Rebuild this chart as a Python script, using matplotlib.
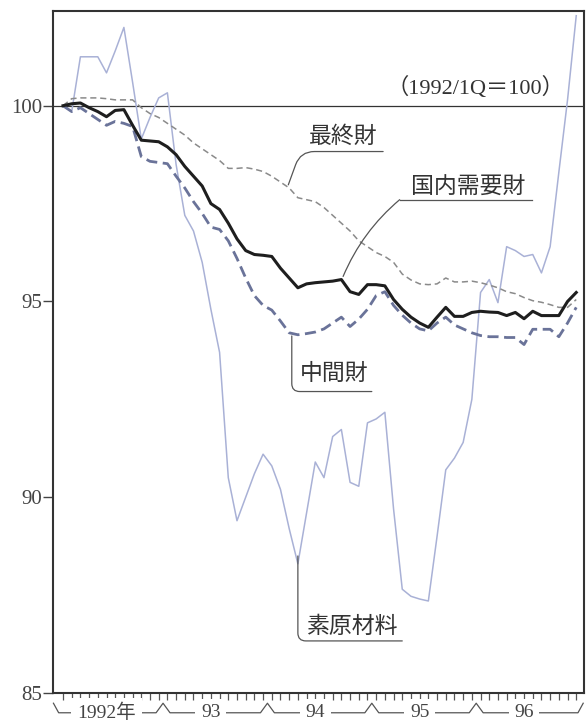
import matplotlib
matplotlib.use('Agg')
import matplotlib.pyplot as plt
import matplotlib.transforms as mtransforms

# monthly index, 1992/1 .. 1996/12 (1992/1Q = 100)
months = list(range(60))

final_goods = [100.0, 100.18, 100.2, 100.2, 100.2, 100.18, 100.15, 100.15, 100.15, 99.95,
               99.8, 99.7, 99.55, 99.4, 99.25, 99.05, 98.9, 98.75, 98.6, 98.4,
               98.4, 98.42, 98.38, 98.32, 98.2, 98.05, 97.9, 97.65, 97.6, 97.55,
               97.4, 97.2, 97.0, 96.8, 96.55, 96.4, 96.25, 96.15, 96.0, 95.7,
               95.55, 95.45, 95.43, 95.45, 95.6, 95.5, 95.5, 95.52, 95.48, 95.42,
               95.35, 95.25, 95.2, 95.1, 95.02, 94.98, 94.92, 94.85, 94.85, 95.05]

domestic = [100.0, 100.05, 100.07, 99.95, 99.85, 99.72, 99.88, 99.9, 99.5, 99.12,
            99.1, 99.08, 98.95, 98.75, 98.45, 98.2, 97.95, 97.5, 97.35, 97.0,
            96.6, 96.3, 96.2, 96.18, 96.15, 95.85, 95.6, 95.35, 95.45, 95.48,
            95.5, 95.52, 95.56, 95.25, 95.18, 95.43, 95.43, 95.4, 95.05, 94.8,
            94.6, 94.45, 94.34, 94.6, 94.85, 94.62, 94.62, 94.72, 94.75, 94.73,
            94.72, 94.64, 94.72, 94.56, 94.75, 94.64, 94.64, 94.64, 95.0, 95.23]

intermediate = [100.0, 99.85, 99.95, 99.8, 99.65, 99.5, 99.6, 99.55, 99.47, 98.7,
                98.58, 98.55, 98.52, 98.2, 97.9, 97.55, 97.25, 96.9, 96.84, 96.55,
                96.1, 95.6, 95.15, 94.9, 94.78, 94.5, 94.2, 94.15, 94.18, 94.22,
                94.3, 94.45, 94.6, 94.36, 94.55, 94.8, 95.15, 95.25, 94.9, 94.65,
                94.45, 94.3, 94.25, 94.45, 94.6, 94.4, 94.3, 94.2, 94.13, 94.1,
                94.1, 94.08, 94.08, 93.9, 94.29, 94.29, 94.29, 94.1, 94.45, 94.85]

raw_materials = [100.0, 99.85, 101.25, 101.25, 101.25, 100.84, 101.4, 102.0, 100.6, 99.15,
                 99.7, 100.2, 100.33, 98.5, 97.2, 96.8, 96.0, 94.8, 93.7, 90.5,
                 89.4, 90.0, 90.6, 91.1, 90.8, 90.2, 89.2, 88.3, 89.6, 90.9,
                 90.5, 91.55, 91.73, 90.38, 90.28, 91.9, 92.0, 92.17, 89.7, 87.65,
                 87.47, 87.4, 87.35, 89.0, 90.7, 91.0, 91.4, 92.5, 95.23, 95.56,
                 94.97, 96.4, 96.3, 96.15, 96.2, 95.73, 96.4, 98.3, 100.15, 102.3]

year_labels = ['1992年', '93', '94', '95', '96']
y_ticks = [85, 90, 95, 100]

serif_jp = ['Liberation Serif', 'Noto Sans CJK JP']
jp = ['Noto Sans CJK JP', 'DejaVu Sans']

fig = plt.figure(figsize=(5.87, 7.23), dpi=100)
ax = fig.add_axes([0.0903, 0.0415, 0.9047, 0.9433])

ax.axhline(100, color='#333333', lw=0.9, zorder=1)

ax.plot(months, raw_materials, color='#a9b1d6', lw=1.1, zorder=2)
ax.plot(months, final_goods, color='#8a8a8a', lw=1.1, ls=(0, (4, 2.5)), zorder=3)
ax.plot(months, intermediate, color='#6a7399', lw=2.0, ls=(0, (4, 2)), zorder=4)
ax.plot(months, domestic, color='#1e1e1e', lw=2.2, zorder=5)

ax.set_xlim(-1.15, 59.9)
ax.set_ylim(85, 102.42)
ax.set_yticks(y_ticks)
ax.set_yticklabels([str(v) for v in y_ticks], family='Liberation Serif',
                   fontsize=15, color='#444444')
ax.tick_params(axis='y', direction='out', length=7, width=1, color='#444444', pad=1)
ax.set_xticks(months)
ax.set_xticklabels([])
ax.tick_params(axis='x', direction='out', length=5, width=0.9, color='#555555')
for s in ax.spines.values():
    s.set_color('#333333')
    s.set_linewidth(1.5)

# year brackets under the axis
trans = mtransforms.blended_transform_factory(ax.transData, ax.transAxes)
yb, yp = -0.029, -0.015
bx, by = [-1.1, -0.5], [yp, yb]
for k in range(1, len(year_labels)):
    b = 12 * k - 0.5
    bx += [b - 0.8, b, b + 0.8]
    by += [yb, yp, yb]
bx += [59.2, 59.8]
by += [yb, yp]
ax.plot(bx, by, color='#555555', lw=0.9, transform=trans, clip_on=False)
for k, lab in enumerate(year_labels):
    ax.text(12 * k + 5, yb, lab, transform=trans, ha='center', va='center',
            fontsize=14, family=serif_jp, color='#444444',
            bbox=dict(facecolor='white', edgecolor='none', pad=4.0))

ax.text(47.4, 100.45, '（1992/1Q＝100）', ha='center', va='center',
        fontsize=16, family=serif_jp, color='#333333')

lead = dict(color='#555555', lw=0.9)
fs_lab = 16.5

# 最終財
ax.text(32.2, 99.21, '最終財', ha='center', va='center', fontsize=fs_lab,
        family=jp, color='#333333')
ax.annotate('', xy=(25.9, 97.98), xytext=(36.8, 98.83),
            arrowprops=dict(arrowstyle='-', connectionstyle='angle,angleA=0,angleB=70,rad=14',
                            shrinkA=0, shrinkB=0, **lead))

# 国内需要財
ax.text(46.6, 97.95, '国内需要財', ha='center', va='center', fontsize=fs_lab,
        family=jp, color='#333333')
ax.plot([38.7, 53.9], [97.6, 97.6], **lead)
ax.annotate('', xy=(32.2, 95.64), xytext=(38.7, 97.6),
            arrowprops=dict(arrowstyle='-', connectionstyle='arc3,rad=0.12',
                            shrinkA=0, shrinkB=0, **lead))

# 中間財
ax.text(31.2, 93.16, '中間財', ha='center', va='center', fontsize=fs_lab,
        family=jp, color='#333333')
ax.annotate('', xy=(26.3, 94.12), xytext=(35.5, 92.7),
            arrowprops=dict(arrowstyle='-', connectionstyle='angle,angleA=0,angleB=90,rad=8',
                            shrinkA=0, shrinkB=0, **lead))

# 素原材料
ax.text(33.2, 86.7, '素原材料', ha='center', va='center', fontsize=fs_lab,
        family=jp, color='#333333')
ax.annotate('', xy=(27.0, 88.5), xytext=(39.0, 86.33),
            arrowprops=dict(arrowstyle='-', connectionstyle='angle,angleA=0,angleB=90,rad=8',
                            shrinkA=0, shrinkB=0, **lead))

fig.savefig('out.png', dpi=100)
